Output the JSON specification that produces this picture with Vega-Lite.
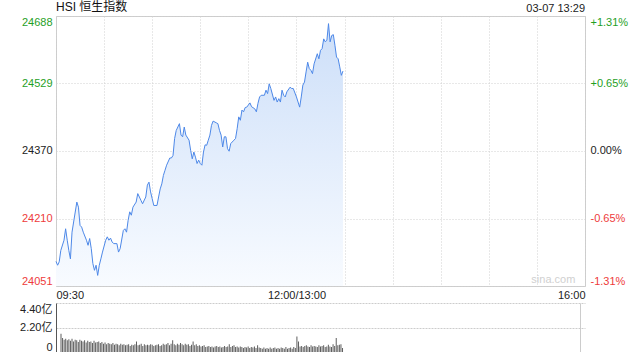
{
  "$schema": "https://vega.github.io/schema/vega-lite/v6.json",
  "padding": {"left": 0, "top": 0, "right": 0, "bottom": 0},
  "background": "#ffffff",
  "config": {
    "font": "Liberation Sans, Noto Sans CJK SC",
    "axis": {"labelFont": "Liberation Sans, Noto Sans CJK SC", "labelFontSize": 11, "labelColor": "#222222"},
    "view": {"stroke": "#cccccc"},
    "concat": {"spacing": 2}
  },
  "datasets": {
    "px": [
      {"t":0,"v":24109},{"t":1,"v":24100},{"t":2,"v":24108},{"t":3,"v":24135},{"t":5,"v":24159},{"t":6,"v":24186},{"t":7,"v":24159},{"t":8,"v":24135},{"t":9,"v":24115},{"t":10,"v":24178},{"t":11,"v":24202},{"t":13,"v":24249},{"t":14,"v":24237},{"t":15,"v":24194},{"t":16,"v":24190},{"t":17,"v":24178},{"t":19,"v":24159},{"t":20,"v":24147},{"t":21,"v":24163},{"t":22,"v":24139},{"t":23,"v":24104},{"t":24,"v":24088},{"t":25,"v":24100},{"t":26,"v":24076},{"t":27,"v":24100},{"t":28,"v":24115},{"t":29,"v":24131},{"t":31,"v":24159},{"t":32,"v":24167},{"t":33,"v":24159},{"t":34,"v":24164},{"t":35,"v":24155},{"t":36,"v":24151},{"t":38,"v":24151},{"t":39,"v":24131},{"t":40,"v":24139},{"t":42,"v":24182},{"t":43,"v":24186},{"t":44,"v":24178},{"t":45,"v":24206},{"t":46,"v":24226},{"t":47,"v":24218},{"t":48,"v":24237},{"t":50,"v":24249},{"t":51,"v":24269},{"t":53,"v":24253},{"t":54,"v":24245},{"t":56,"v":24261},{"t":57,"v":24289},{"t":58,"v":24296},{"t":59,"v":24273},{"t":60,"v":24257},{"t":61,"v":24241},{"t":63,"v":24241},{"t":64,"v":24261},{"t":65,"v":24280},{"t":66,"v":24292},{"t":67,"v":24312},{"t":68,"v":24324},{"t":69,"v":24336},{"t":71,"v":24353},{"t":72,"v":24353},{"t":73,"v":24359},{"t":74,"v":24399},{"t":75,"v":24418},{"t":77,"v":24434},{"t":78,"v":24407},{"t":79,"v":24403},{"t":80,"v":24426},{"t":81,"v":24407},{"t":83,"v":24395},{"t":84,"v":24371},{"t":85,"v":24351},{"t":86,"v":24367},{"t":87,"v":24355},{"t":88,"v":24340},{"t":89,"v":24348},{"t":90,"v":24340},{"t":91,"v":24336},{"t":92,"v":24367},{"t":93,"v":24384},{"t":94,"v":24383},{"t":95,"v":24395},{"t":96,"v":24407},{"t":97,"v":24430},{"t":98,"v":24440},{"t":100,"v":24436},{"t":101,"v":24434},{"t":102,"v":24418},{"t":103,"v":24407},{"t":104,"v":24379},{"t":105,"v":24403},{"t":106,"v":24403},{"t":107,"v":24375},{"t":108,"v":24369},{"t":109,"v":24387},{"t":111,"v":24395},{"t":112,"v":24399},{"t":113,"v":24422},{"t":114,"v":24450},{"t":115,"v":24442},{"t":116,"v":24466},{"t":117,"v":24462},{"t":118,"v":24472},{"t":119,"v":24473},{"t":121,"v":24483},{"t":122,"v":24474},{"t":124,"v":24469},{"t":125,"v":24462},{"t":126,"v":24482},{"t":127,"v":24497},{"t":128,"v":24501},{"t":130,"v":24501},{"t":131,"v":24513},{"t":132,"v":24505},{"t":133,"v":24528},{"t":134,"v":24517},{"t":136,"v":24489},{"t":137,"v":24497},{"t":138,"v":24485},{"t":139,"v":24493},{"t":140,"v":24485},{"t":141,"v":24513},{"t":142,"v":24501},{"t":143,"v":24497},{"t":144,"v":24509},{"t":146,"v":24520},{"t":147,"v":24517},{"t":148,"v":24517},{"t":150,"v":24497},{"t":151,"v":24485},{"t":152,"v":24473},{"t":153,"v":24497},{"t":154,"v":24525},{"t":155,"v":24532},{"t":156,"v":24556},{"t":157,"v":24579},{"t":158,"v":24564},{"t":159,"v":24560},{"t":160,"v":24552},{"t":161,"v":24575},{"t":163,"v":24599},{"t":164,"v":24587},{"t":165,"v":24607},{"t":166,"v":24611},{"t":167,"v":24634},{"t":168,"v":24627},{"t":169,"v":24631},{"t":170,"v":24670},{"t":171,"v":24627},{"t":172,"v":24642},{"t":173,"v":24644},{"t":174,"v":24619},{"t":175,"v":24591},{"t":176,"v":24587},{"t":177,"v":24568},{"t":178,"v":24548},{"t":179,"v":24558}
    ],
    "vol": [
      {"t":0,"vol":1.65},{"t":1,"vol":1.25},{"t":2,"vol":1.1},{"t":3,"vol":1.2},{"t":4,"vol":1.05},{"t":5,"vol":1.15},{"t":6,"vol":1.0},{"t":7,"vol":1.2},{"t":8,"vol":0.95},{"t":9,"vol":1.1},
      {"t":10,"vol":1.05},{"t":11,"vol":0.9},{"t":12,"vol":1.1},{"t":13,"vol":1.0},{"t":14,"vol":0.95},{"t":15,"vol":1.05},{"t":16,"vol":0.85},{"t":17,"vol":1.0},{"t":18,"vol":0.9},{"t":19,"vol":0.95},
      {"t":20,"vol":0.8},{"t":21,"vol":1.0},{"t":22,"vol":0.85},{"t":23,"vol":0.9},{"t":24,"vol":0.95},{"t":25,"vol":0.8},{"t":26,"vol":0.9},{"t":27,"vol":0.75},{"t":28,"vol":0.85},{"t":29,"vol":0.7},
      {"t":30,"vol":0.8},{"t":31,"vol":0.75},{"t":32,"vol":0.7},{"t":33,"vol":0.8},{"t":34,"vol":0.65},{"t":35,"vol":0.75},{"t":36,"vol":0.7},{"t":37,"vol":0.6},{"t":38,"vol":0.75},{"t":39,"vol":0.65},
      {"t":40,"vol":0.7},{"t":41,"vol":0.6},{"t":42,"vol":0.65},{"t":43,"vol":0.7},{"t":44,"vol":0.55},{"t":45,"vol":0.65},{"t":46,"vol":0.6},{"t":47,"vol":0.7},{"t":48,"vol":0.95},{"t":49,"vol":0.6},
      {"t":50,"vol":0.65},{"t":51,"vol":0.75},{"t":52,"vol":0.55},{"t":53,"vol":0.7},{"t":54,"vol":0.6},{"t":55,"vol":0.65},{"t":56,"vol":0.6},{"t":57,"vol":0.7},{"t":58,"vol":0.65},{"t":59,"vol":0.55},
      {"t":60,"vol":0.6},{"t":61,"vol":0.65},{"t":62,"vol":0.7},{"t":63,"vol":0.55},{"t":64,"vol":0.6},{"t":65,"vol":0.75},{"t":66,"vol":0.65},{"t":67,"vol":0.7},{"t":68,"vol":0.8},{"t":69,"vol":0.6},
      {"t":70,"vol":0.75},{"t":71,"vol":1.05},{"t":72,"vol":0.7},{"t":73,"vol":0.6},{"t":74,"vol":0.75},{"t":75,"vol":0.65},{"t":76,"vol":0.8},{"t":77,"vol":0.7},{"t":78,"vol":0.6},{"t":79,"vol":0.75},
      {"t":80,"vol":0.65},{"t":81,"vol":0.7},{"t":82,"vol":0.55},{"t":83,"vol":0.65},{"t":84,"vol":0.95},{"t":85,"vol":0.6},{"t":86,"vol":0.7},{"t":87,"vol":0.55},{"t":88,"vol":0.6},{"t":89,"vol":0.5},
      {"t":90,"vol":0.55},{"t":91,"vol":0.6},{"t":92,"vol":0.45},{"t":93,"vol":0.5},{"t":94,"vol":0.55},{"t":95,"vol":0.45},{"t":96,"vol":0.5},{"t":97,"vol":0.4},{"t":98,"vol":0.5},{"t":99,"vol":0.55},
      {"t":100,"vol":0.45},{"t":101,"vol":0.5},{"t":102,"vol":0.4},{"t":103,"vol":0.45},{"t":104,"vol":0.55},{"t":105,"vol":0.45},{"t":106,"vol":0.5},{"t":107,"vol":0.7},{"t":108,"vol":0.45},{"t":109,"vol":0.55},
      {"t":110,"vol":0.6},{"t":111,"vol":0.45},{"t":112,"vol":0.5},{"t":113,"vol":0.4},{"t":114,"vol":0.5},{"t":115,"vol":0.45},{"t":116,"vol":0.35},{"t":117,"vol":0.45},{"t":118,"vol":0.4},{"t":119,"vol":0.5},
      {"t":120,"vol":0.35},{"t":121,"vol":0.45},{"t":122,"vol":0.4},{"t":123,"vol":0.5},{"t":124,"vol":0.35},{"t":125,"vol":0.6},{"t":126,"vol":0.4},{"t":127,"vol":0.35},{"t":128,"vol":0.3},{"t":129,"vol":0.4},
      {"t":130,"vol":0.3},{"t":131,"vol":0.35},{"t":132,"vol":0.3},{"t":133,"vol":0.4},{"t":134,"vol":0.3},{"t":135,"vol":0.35},{"t":136,"vol":0.4},{"t":137,"vol":0.3},{"t":138,"vol":0.35},{"t":139,"vol":0.3},
      {"t":140,"vol":0.4},{"t":141,"vol":0.35},{"t":142,"vol":0.3},{"t":143,"vol":0.45},{"t":144,"vol":0.3},{"t":145,"vol":0.35},{"t":146,"vol":0.4},{"t":147,"vol":0.3},{"t":148,"vol":0.45},{"t":149,"vol":0.35},
      {"t":150,"vol":1.4},{"t":151,"vol":0.95},{"t":152,"vol":0.5},{"t":153,"vol":0.55},{"t":154,"vol":0.45},{"t":155,"vol":0.55},{"t":156,"vol":0.6},{"t":157,"vol":0.5},{"t":158,"vol":0.45},{"t":159,"vol":0.6},
      {"t":160,"vol":0.5},{"t":161,"vol":0.55},{"t":162,"vol":0.5},{"t":163,"vol":0.45},{"t":164,"vol":0.6},{"t":165,"vol":0.5},{"t":166,"vol":0.55},{"t":167,"vol":0.6},{"t":168,"vol":0.45},{"t":169,"vol":0.5},
      {"t":170,"vol":0.65},{"t":171,"vol":0.5},{"t":172,"vol":0.45},{"t":173,"vol":0.7},{"t":174,"vol":0.55},{"t":175,"vol":1.25},{"t":176,"vol":0.6},{"t":177,"vol":0.65},{"t":178,"vol":0.7},{"t":179,"vol":0.35}
    ],
    "head": [{"t":0,"v":24688,"label":"HSI 恒生指数"}],
    "stamp": [{"t":330,"v":24688,"label":"03-07 13:29"}],
    "mark": [{"t":324,"v":24051,"label":"sina.com"}]
  },
  "vconcat": [
    {
      "width": 529,
      "height": 270,
      "layer": [
        {
          "data": {"name": "px"},
          "mark": {"type": "area", "color": {"gradient": "linear", "x1": 0, "y1": 0, "x2": 0, "y2": 1, "stops": [{"offset": 0, "color": "#cddff9"}, {"offset": 1, "color": "#f8fbff"}]}},
          "encoding": {
            "x": {"field": "t", "type": "quantitative", "scale": {"domain": [0, 330], "nice": false},
              "axis": {"values": [0,30,60,90,120,150,180,210,240,270,300,330], "labelExpr": "datum.value == 0 ? '09:30' : datum.value == 150 ? '12:00/13:00' : datum.value == 330 ? '16:00' : ''", "labelOverlap": false, "labelFlush": true, "grid": true, "gridColor": "#d0d0d0", "gridDash": [1, 2], "domain": false, "ticks": false, "labelPadding": 3, "title": null}},
            "y": {"field": "v", "type": "quantitative", "scale": {"domain": [24051, 24688], "zero": false, "nice": false},
              "axis": {"values": [24051, 24210, 24370, 24529, 24688], "format": "d", "title": null, "grid": true, "gridColor": "#d0d0d0", "gridDash": [1, 2], "domain": false, "ticks": false, "labelPadding": 4, "labelFlush": true, "minExtent": 55,
                "labelColor": {"condition": [{"test": "datum.value > 24400", "value": "#1fa01f"}, {"test": "datum.value < 24300", "value": "#ee3b3b"}], "value": "#222222"}}},
            "y2": {"datum": 24051}
          }
        },
        {
          "data": {"name": "px"},
          "mark": {"type": "line", "color": "#4d88e8", "strokeWidth": 1},
          "encoding": {
            "x": {"field": "t", "type": "quantitative"},
            "y": {"field": "v", "type": "quantitative",
              "axis": {"orient": "right", "values": [24051, 24210, 24370, 24529, 24688], "labelExpr": "['+1.31%','+0.65%','0.00%','-0.65%','-1.31%'][indexof([24688,24529,24370,24210,24051], datum.value)]", "title": null, "grid": false, "domain": false, "ticks": false, "labelPadding": 5, "labelFlush": true,
                "labelColor": {"condition": [{"test": "datum.value > 24400", "value": "#1fa01f"}, {"test": "datum.value < 24300", "value": "#ee3b3b"}], "value": "#222222"}}}
          }
        },
        {
          "data": {"name": "head"},
          "mark": {"type": "text", "align": "left", "baseline": "bottom", "dy": -2, "fontSize": 12, "color": "#111111", "font": "Liberation Sans, Noto Sans CJK SC"},
          "encoding": {
            "x": {"field": "t", "type": "quantitative"},
            "y": {"field": "v", "type": "quantitative", "axis": null},
            "text": {"field": "label"}
          }
        },
        {
          "data": {"name": "stamp"},
          "mark": {"type": "text", "align": "right", "baseline": "bottom", "dy": -2, "fontSize": 11, "color": "#222222", "font": "Liberation Sans"},
          "encoding": {
            "x": {"field": "t", "type": "quantitative"},
            "y": {"field": "v", "type": "quantitative", "axis": null},
            "text": {"field": "label"}
          }
        },
        {
          "data": {"name": "mark"},
          "mark": {"type": "text", "align": "right", "baseline": "bottom", "dy": -1, "fontSize": 11, "color": "#d0d0d0", "font": "Liberation Sans"},
          "encoding": {
            "x": {"field": "t", "type": "quantitative"},
            "y": {"field": "v", "type": "quantitative", "axis": null},
            "text": {"field": "label"}
          }
        }
      ],
      "resolve": {"axis": {"y": "independent"}}
    },
    {
      "width": 529,
      "height": 49,
      "view": {"stroke": null},
      "data": {"name": "vol"},
      "mark": {"type": "bar", "width": 1, "color": "#5e5e5e"},
      "encoding": {
        "x": {"field": "t", "type": "quantitative", "scale": {"domain": [0, 330], "nice": false},
          "axis": {"values": [330], "grid": true, "gridColor": "#cccccc", "gridDash": [], "labels": false, "ticks": false, "domain": false, "title": null}},
        "y": {"field": "vol", "type": "quantitative", "scale": {"domain": [0, 4.4], "nice": false},
          "axis": {"values": [0, 2.2, 4.4], "labelExpr": "datum.value == 0 ? '0' : format(datum.value, '.2f') + '亿'", "grid": true, "gridDash": [2, 1], "gridColor": "#cccccc", "domainColor": "#555555", "ticks": false, "labelFlush": true, "labelPadding": 4, "minExtent": 55, "title": null}}
      }
    }
  ]
}
